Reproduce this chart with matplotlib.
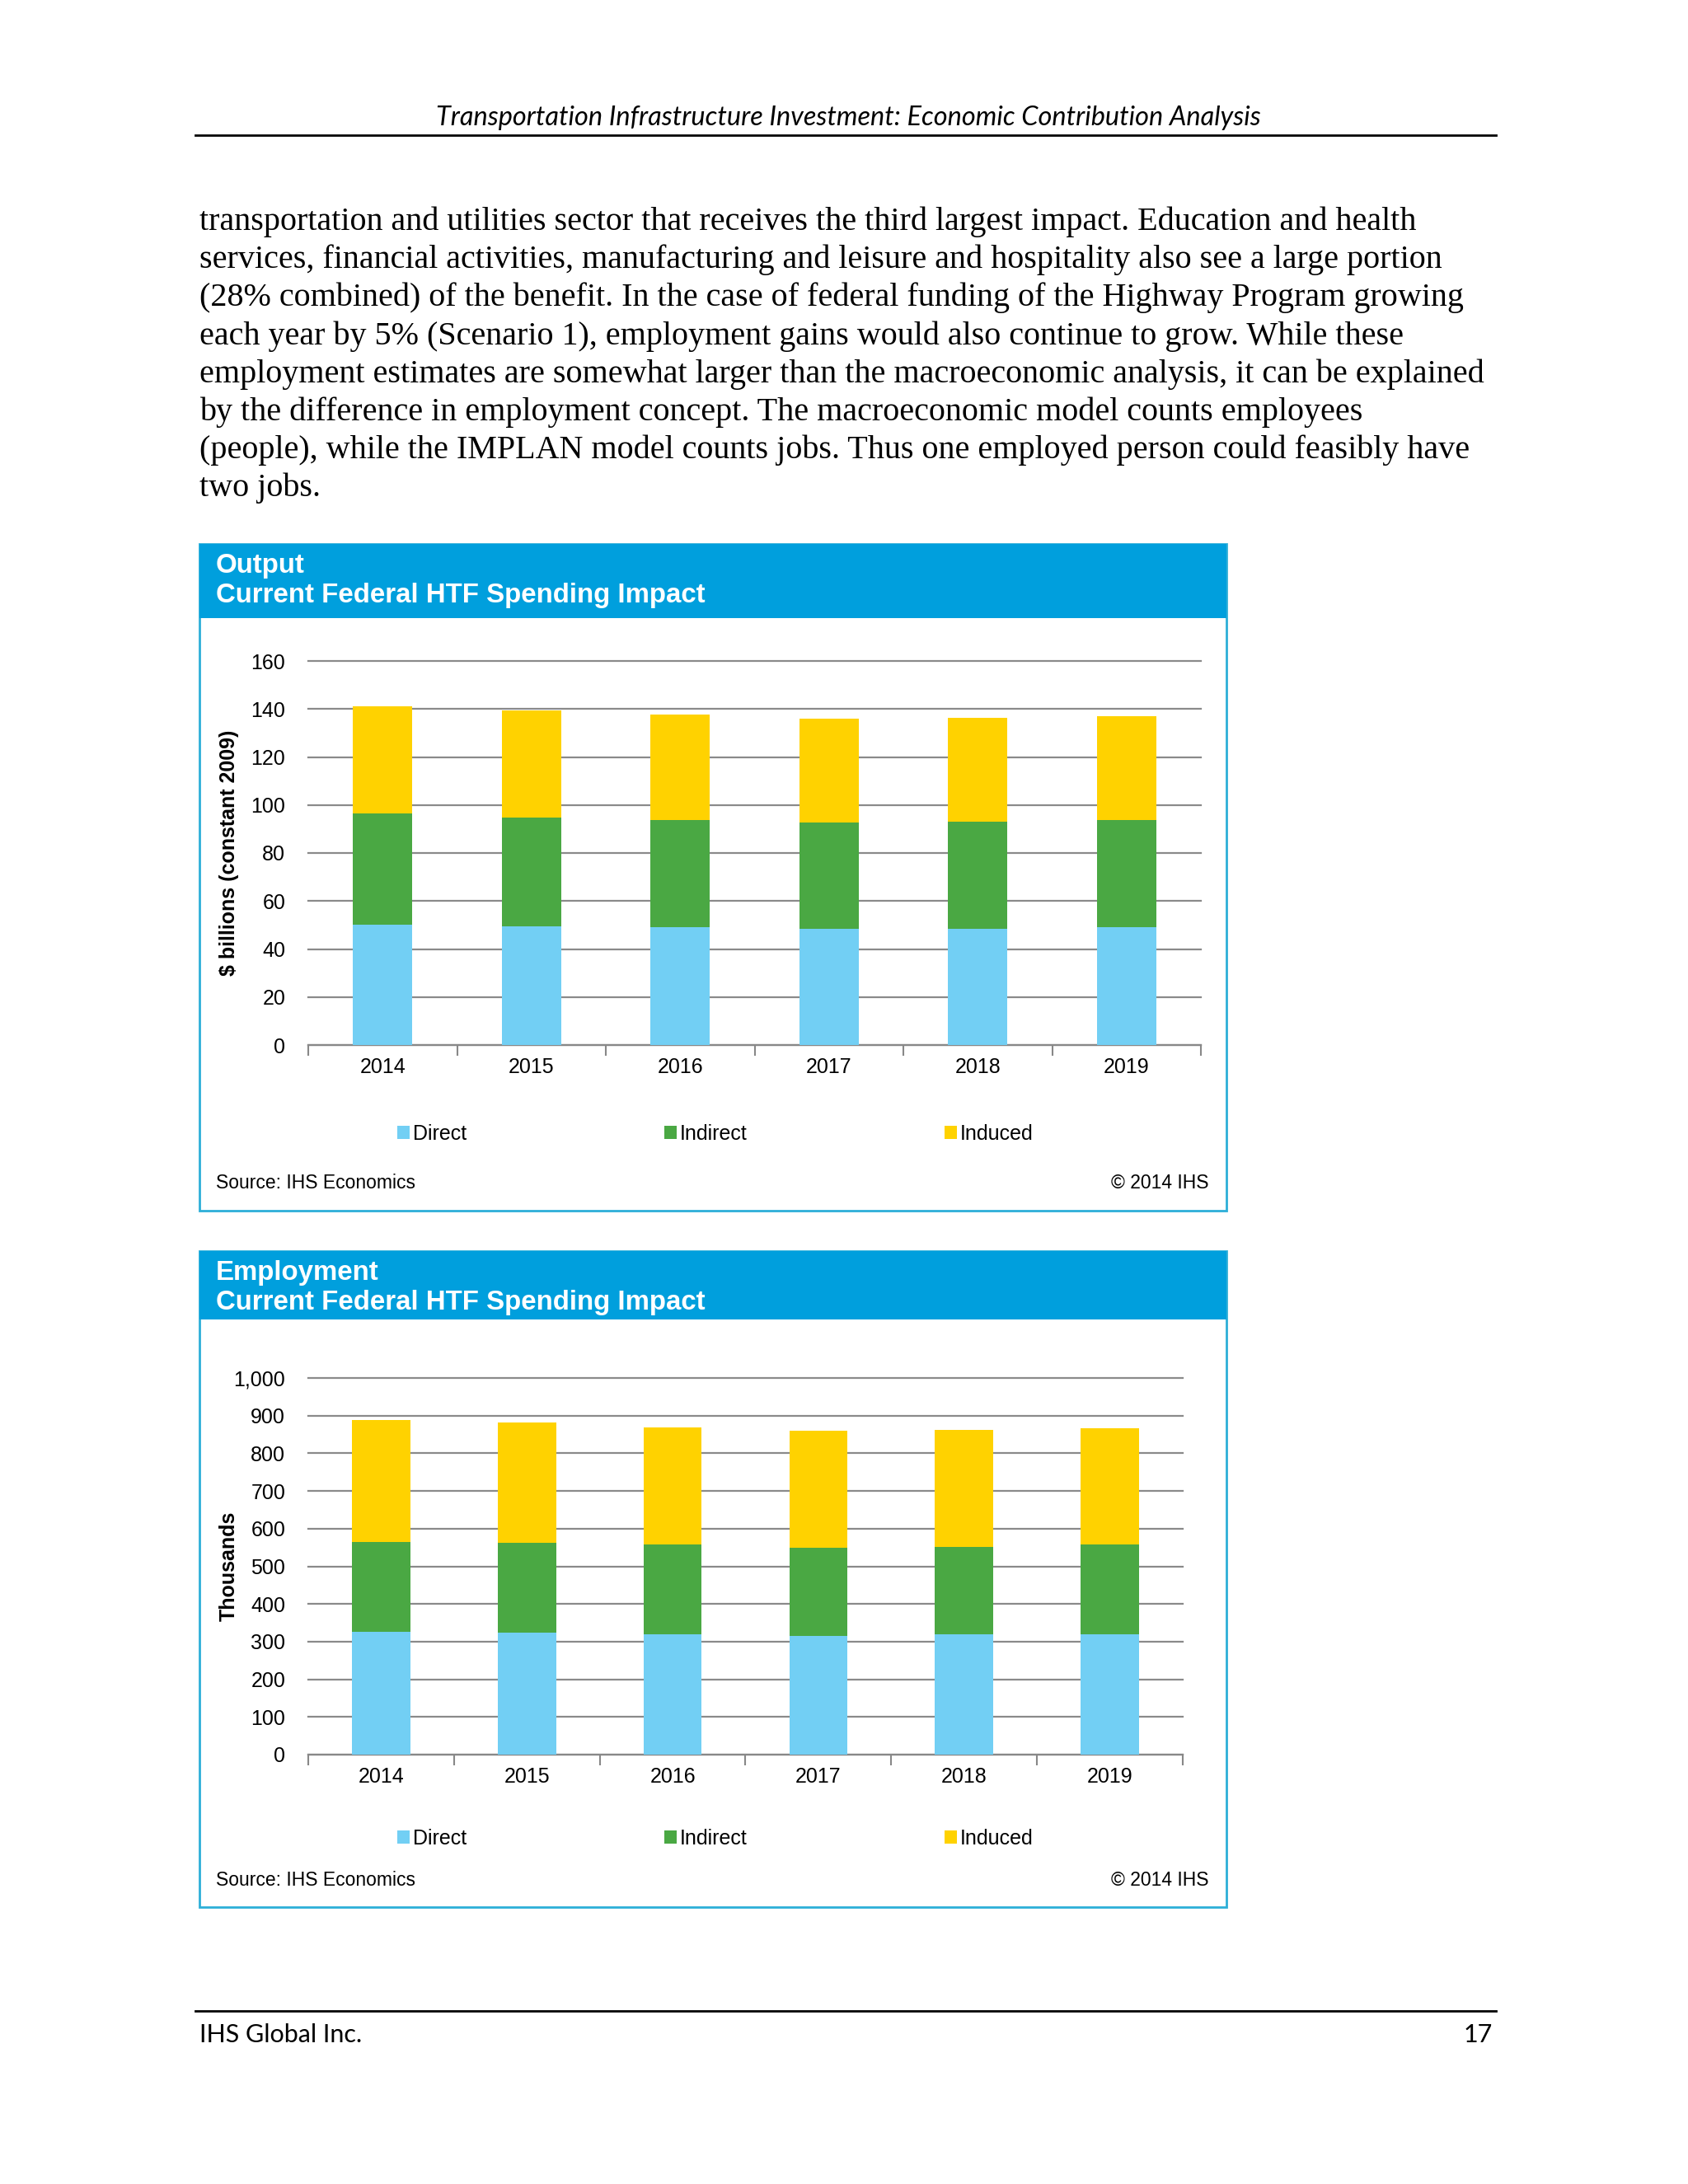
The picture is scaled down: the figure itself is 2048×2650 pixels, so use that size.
import numpy as np
import matplotlib
matplotlib.use("Agg")
import matplotlib.pyplot as plt
from matplotlib.patches import Rectangle

W, H = 2048, 2650

years = ["2014", "2015", "2016", "2017", "2018", "2019"]
series = ["Direct", "Indirect", "Induced"]
colors = ["#72CFF4", "#4AA843", "#FFD200"]

# output, $ billions (constant 2009)
out_direct = [50.3, 49.5, 49.0, 48.5, 48.5, 49.2]
out_indirect = [46.3, 45.3, 44.7, 44.1, 44.5, 44.5]
out_induced = [44.5, 44.7, 44.0, 43.3, 43.2, 43.2]
out_ticks = [0, 20, 40, 60, 80, 100, 120, 140, 160]

# employment, thousands
emp_direct = [326, 323, 320, 316, 320, 320]
emp_indirect = [239, 239, 237, 233, 232, 237]
emp_induced = [323, 319, 312, 310, 311, 309]
emp_ticks = [0, 100, 200, 300, 400, 500, 600, 700, 800, 900, 1000]

body = [
    "transportation and utilities sector that receives the third largest impact. Education and health",
    "services, financial activities, manufacturing and leisure and hospitality also see a large portion",
    "(28% combined) of the benefit. In the case of federal funding of the Highway Program growing",
    "each year by 5% (Scenario 1), employment gains would also continue to grow. While these",
    "employment estimates are somewhat larger than the macroeconomic analysis, it can be explained",
    "by the difference in employment concept. The macroeconomic model counts employees",
    "(people), while the IMPLAN model counts jobs. Thus one employed person could feasibly have",
    "two jobs.",
]

SANS = "Liberation Sans"
fig = plt.figure(figsize=(W / 100, H / 100), dpi=100)


def fx(x):
    return x / W


def fy(y):
    return 1 - y / H


def ftext(x, y, s, **kw):
    fig.text(fx(x), fy(y), s, **kw)


def rect(x0, y0, x1, y1, **kw):
    fig.patches.append(Rectangle((fx(x0), fy(y1)), fx(x1) - fx(x0), fy(y0) - fy(y1),
                                 transform=fig.transFigure, zorder=-1, **kw))


# page header / footer
ftext(1029, 152, "Transportation Infrastructure Investment: Economic Contribution Analysis",
      family="Lato", style="italic", fontsize=23.4, ha="center", va="baseline")
fig.add_artist(plt.Line2D([fx(237), fx(1815)], [fy(164), fy(164)], color="black", lw=2))
fig.add_artist(plt.Line2D([fx(237), fx(1815)], [fy(2440), fy(2440)], color="black", lw=2))
ftext(242, 2478, "IHS Global Inc.", family="Lato", fontsize=22, va="baseline")
ftext(1811, 2478, "17", family="Lato", fontsize=22, va="baseline", ha="right")

for i, line in enumerate(body):
    ftext(242, 279 + i * 46.2, line, family="Liberation Serif", fontsize=28.9, va="baseline")


def chart(box, head_h, ax_box, title, d, ind, indu, ticks, ylabel, fmt, leg_x, leg_y):
    x0, y0, x1, y1 = box
    rect(x0, y0, x1, y1, facecolor="white", edgecolor="#2DAFD8", lw=2)
    rect(x0, y0, x1, y0 + head_h, facecolor="#009FDD", edgecolor="none")
    ftext(x0 + 20, y0 + 27, title, family=SANS, fontsize=23.8, weight="bold",
          color="white", va="center")
    ftext(x0 + 20, y0 + 63, "Current Federal HTF Spending Impact", family=SANS,
          fontsize=23.8, weight="bold", color="white", va="center")
    ftext(x0 + 20, y1 - 33, "Source: IHS Economics", family=SANS, fontsize=16.5, va="center")
    ftext(x1 - 22, y1 - 33, "\u00a9 2014 IHS", family=SANS, fontsize=16.5, va="center", ha="right")

    ax0, ay0, ax1, ay1 = ax_box
    ax = fig.add_axes([fx(ax0), fy(ay1), fx(ax1) - fx(ax0), fy(ay0) - fy(ay1)])
    x = np.arange(len(years))
    bottom = np.zeros(len(years))
    for vals, name, c in zip([d, ind, indu], series, colors):
        ax.bar(x, vals, 0.4, bottom=bottom, color=c, label=name, zorder=3)
        bottom += np.array(vals)
    ax.set_xlim(-0.5, len(years) - 0.5)
    ax.set_ylim(ticks[0], ticks[-1])
    ax.set_yticks(ticks)
    ax.set_yticklabels([fmt(t) for t in ticks], family=SANS, fontsize=18)
    ax.set_xticks(x)
    ax.set_xticklabels(years, family=SANS, fontsize=18)
    ax.set_xticks(np.arange(len(years) + 1) - 0.5, minor=True)
    ax.tick_params(axis="x", which="major", length=0, pad=11)
    ax.tick_params(axis="x", which="minor", length=9, width=1.5, color="#888888", direction="out")
    ax.tick_params(axis="y", length=0, pad=20)
    ax.grid(axis="y", color="#8A8A8A", lw=1.6, zorder=0)
    for gl in ax.get_ygridlines():
        gl.set_clip_on(False)
    for s in ["left", "right", "top"]:
        ax.spines[s].set_visible(False)
    ax.spines["bottom"].set_color("#888888")
    ax.spines["bottom"].set_linewidth(1.6)
    ax.set_ylabel(ylabel, family=SANS, fontsize=18, weight="bold")
    ax.yaxis.set_label_coords((290 - ax0) / (ax1 - ax0), 0.5)
    ax.set_facecolor("none")
    ax.legend(loc="center",
              bbox_to_anchor=((leg_x - ax0) / (ax1 - ax0), -(leg_y - ay1) / (ay1 - ay0)),
              ncol=3, frameon=False, handlelength=0.6, handleheight=0.6,
              handletextpad=0.15, columnspacing=9.6, prop={"family": SANS, "size": 18})
    return ax


ax1 = chart((242, 660, 1488, 1469), 90, (374, 802, 1457, 1268), "Output",
            out_direct, out_indirect, out_induced, out_ticks,
            "$ billions (constant 2009)", lambda t: f"{t}", 868, 1376)

ax2 = chart((242, 1518, 1488, 2314), 83, (374, 1672, 1435, 2129), "Employment",
            emp_direct, emp_indirect, emp_induced, emp_ticks,
            "Thousands", lambda t: f"{t:,}", 868, 2231)

fig.savefig("out.png", dpi=100)
